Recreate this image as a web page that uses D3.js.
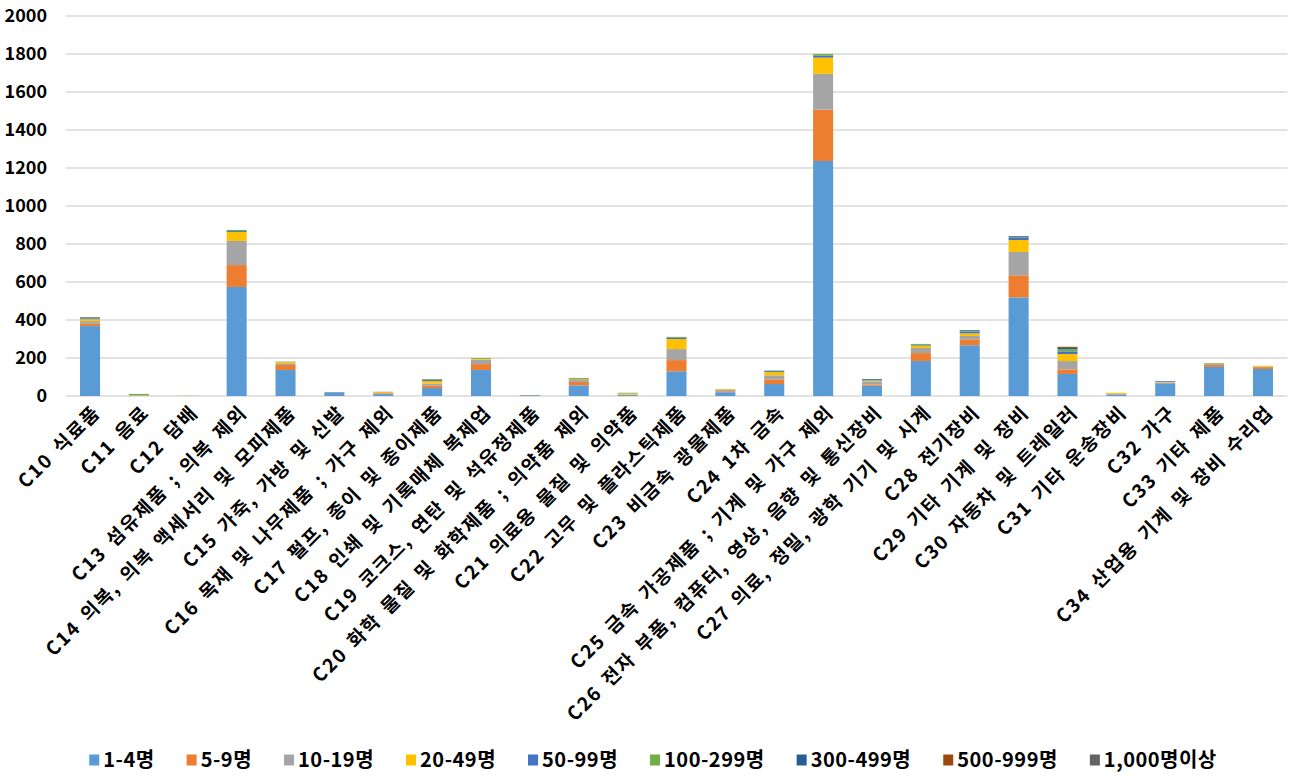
<!DOCTYPE html>
<html>
<head>
<meta charset="utf-8">
<script src="https://cdn.jsdelivr.net/npm/d3@7"></script>
<style>
  body { margin: 0; background: #fff; }
  text { font-family: "Noto Sans CJK KR", "Noto Sans", sans-serif; font-weight: bold; fill: #000; }
</style>
</head>
<body>
<div id="chart"></div>
<script>
const categories = [
  "C10 식료품", "C11 음료", "C12 담배", "C13 섬유제품 ; 의복 제외",
  "C14 의복, 의복 액세서리 및 모피제품", "C15 가죽, 가방 및 신발",
  "C16 목재 및 나무제품 ; 가구 제외", "C17 펄프, 종이 및 종이제품",
  "C18 인쇄 및 기록매체 복제업", "C19 코크스, 연탄 및 석유정제품",
  "C20 화학 물질 및 화학제품 ; 의약품 제외", "C21 의료용 물질 및 의약품",
  "C22 고무 및 플라스틱제품", "C23 비금속 광물제품", "C24 1차 금속",
  "C25 금속 가공제품 ; 기계 및 가구 제외", "C26 전자 부품, 컴퓨터, 영상, 음향 및 통신장비",
  "C27 의료, 정밀, 광학 기기 및 시계", "C28 전기장비", "C29 기타 기계 및 장비",
  "C30 자동차 및 트레일러", "C31 기타 운송장비", "C32 가구", "C33 기타 제품",
  "C34 산업용 기계 및 장비 수리업"
];
const seriesNames = ["1-4명", "5-9명", "10-19명", "20-49명", "50-99명", "100-299명", "300-499명", "500-999명", "1,000명이상"];
const seriesColors = ["#5B9BD5", "#ED7D31", "#A5A5A5", "#FFC000", "#4472C4", "#70AD47", "#255E91", "#9E480E", "#636363"];

// values per size class, in category order C10..C34
const size1to4     = [368, 2, 0, 574, 137, 20, 10, 42, 137, 3, 56, 5, 130, 20, 63, 1237, 54, 184, 267, 519, 116, 8, 67, 153, 142];
const size5to9     = [12, 1, 0, 115, 26, 1, 4, 12, 31, 1, 18, 1, 59, 5, 24, 270, 7, 42, 31, 116, 24, 1, 3, 10, 10];
const size10to19   = [14, 1, 0, 127, 9, 0, 2, 11, 23, 0, 10, 1, 58, 6, 22, 189, 16, 27, 18, 123, 44, 2, 2, 5, 3];
const size20to49   = [10, 1, 0, 47, 7, 0, 5, 14, 4, 0, 4, 6, 53, 4, 17, 85, 3, 12, 14, 63, 37, 6, 3, 2, 4];
const size50to99   = [5, 0, 0, 5, 1, 0, 1, 6, 1, 1, 2, 1, 6, 1, 5, 10, 2, 4, 8, 11, 14, 0, 4, 1, 0];
const size100to299 = [2, 6, 1, 6, 1, 0, 0, 3, 4, 0, 5, 3, 4, 0, 2, 9, 3, 5, 3, 3, 12, 0, 0, 3, 0];
const size300to499 = [3, 0, 0, 0, 0, 0, 0, 1, 0, 0, 0, 0, 1, 0, 1, 0, 4, 0, 5, 6, 6, 0, 0, 0, 0];
const size500to999 = [1, 0, 0, 0, 0, 0, 0, 0, 0, 0, 0, 0, 0, 0, 0, 0, 0, 0, 0, 0, 5, 0, 0, 0, 0];
const size1000plus = [0, 0, 0, 0, 0, 0, 0, 0, 0, 0, 0, 0, 0, 0, 0, 0, 0, 0, 0, 0, 1, 0, 0, 0, 0];
const yTicks = [0, 200, 400, 600, 800, 1000, 1200, 1400, 1600, 1800, 2000];

const allSeries = [size1to4, size5to9, size10to19, size20to49, size50to99, size100to299, size300to499, size500to999, size1000plus];
const rows = categories.map((c, i) => {
  const r = {cat: c};
  seriesNames.forEach((s, k) => r[s] = allSeries[k][i]);
  return r;
});

const width = 1299, height = 781;
const svg = d3.select("#chart").append("svg").attr("width", width).attr("height", height);

const x = d3.scaleBand().domain(categories).range([65.6, 1287.4]).paddingInner(0.59).paddingOuter(0.295);
const y = d3.scaleLinear().domain([0, 2000]).range([396, 16]);

// gridlines
svg.append("g").selectAll("line").data(yTicks).enter().append("line")
  .attr("x1", 65.6).attr("x2", 1287.4)
  .attr("y1", d => y(d)).attr("y2", d => y(d))
  .attr("stroke", "#d9d9d9").attr("stroke-width", 1.3);

// y labels
svg.append("g").selectAll("text").data(yTicks).enter().append("text")
  .attr("x", 47).attr("y", d => y(d)).attr("dy", "0.35em")
  .attr("text-anchor", "end").style("font-size", "18px")
  .text(d => d);

const stack = d3.stack().keys(seriesNames);
const layers = stack(rows);
const color = d3.scaleOrdinal().domain(seriesNames).range(seriesColors);

svg.append("g").selectAll("g").data(layers).enter().append("g")
  .attr("fill", d => color(d.key))
  .selectAll("rect").data(d => d).enter().append("rect")
  .attr("x", d => x(d.data.cat))
  .attr("width", x.bandwidth())
  .attr("y", d => y(d[1]))
  .attr("height", d => y(d[0]) - y(d[1]));

// x labels rotated
svg.append("g").selectAll("text").data(categories).enter().append("text")
  .attr("transform", d => `translate(${x(d) + x.bandwidth() / 2 + 7}, 409) rotate(-45)`)
  .attr("text-anchor", "end").attr("dy", "0.35em")
  .style("font-size", "19px").style("letter-spacing", "1.8px").style("word-spacing", "3px")
  .text(d => d);

// legend
const legend = svg.append("g");
const items = legend.selectAll("g").data(seriesNames).enter().append("g");
items.append("rect").attr("width", 10).attr("height", 11).attr("y", -5.5)
  .attr("fill", d => color(d));
items.append("text").attr("x", 14).attr("dy", "0.35em")
  .style("font-size", "20px").style("letter-spacing", "0.5px").text(d => d);
let pos = 0;
items.each(function () {
  const w = d3.select(this).select("text").node().getComputedTextLength();
  d3.select(this).attr("data-x", pos);
  pos += 14 + w + 32;
});
const total = pos - 32;
const start = 653 - total / 2;
items.attr("transform", function () { return `translate(${start + (+this.getAttribute("data-x"))}, 760)`; });
</script>
</body>
</html>
